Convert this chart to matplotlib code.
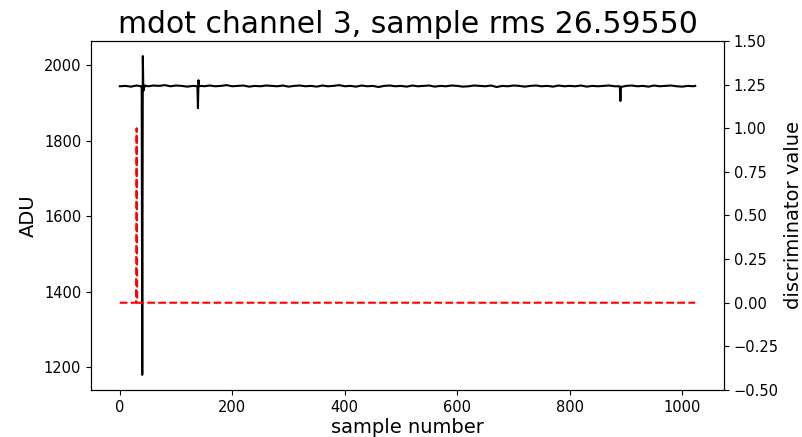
import matplotlib
matplotlib.use("Agg")
import matplotlib.pyplot as plt

# raw mdot channel 3 trace (sample index, ADU)
sample = [0, 10, 20, 30, 38, 39, 40, 41, 42, 43, 45, 50, 60, 70, 80, 90,
          100, 110, 120, 130, 138, 139, 140, 141, 145, 150, 160, 170, 180,
          190, 200, 210, 220, 230, 240, 250, 260, 270, 280, 290, 300, 310,
          320, 330, 340, 350, 360, 370, 380, 390, 400, 410, 420, 430, 440,
          450, 460, 470, 480, 490, 500, 510, 520, 530, 540, 550, 560, 570,
          580, 590, 600, 610, 620, 630, 640, 650, 660, 670, 680, 690, 700,
          710, 720, 730, 740, 750, 760, 770, 780, 790, 800, 810, 820, 830,
          840, 850, 860, 870, 880, 889, 890, 891, 900, 910, 920, 930, 940,
          950, 960, 970, 980, 990, 1000, 1010, 1020, 1023]
adu = [1944, 1945, 1943, 1946, 1944, 1940, 1179, 2024, 1932, 1938, 1946,
       1944, 1946, 1945, 1947, 1944, 1946, 1945, 1943, 1945, 1944, 1886,
       1960, 1944, 1945, 1944, 1946, 1944, 1945, 1947, 1944, 1945, 1946,
       1943, 1945, 1944, 1946, 1945, 1944, 1946, 1943, 1945, 1946, 1944,
       1945, 1943, 1946, 1944, 1945, 1947, 1944, 1945, 1943, 1946, 1944,
       1945, 1942, 1945, 1946, 1944, 1945, 1943, 1946, 1944, 1945, 1946,
       1943, 1945, 1944, 1946, 1945, 1943, 1944, 1946, 1945, 1944, 1946,
       1942, 1945, 1944, 1946, 1945, 1943, 1945, 1946, 1944, 1945, 1943,
       1946, 1944, 1945, 1944, 1946, 1943, 1945, 1944, 1945, 1946, 1944,
       1944, 1905, 1942, 1945, 1946, 1944, 1945, 1943, 1946, 1944, 1945,
       1946, 1944, 1943, 1945, 1944, 1945]

# discriminator output
disc_sample = [0, 29, 30, 31, 1023]
disc_value = [0, 0, 1, 0, 0]

fig = plt.figure(figsize=(8.03, 4.37), dpi=100)
ax = fig.add_axes([0.1133, 0.1076, 0.7883, 0.7986])
ax.plot(sample, adu, color="black", lw=1.5)
ax.set_ylim(1139, 2064)
ax.set_xticks([0, 200, 400, 600, 800, 1000])
ax.set_yticks([1200, 1400, 1600, 1800, 2000])
ax.tick_params(labelsize=10.5)
ax.set_xlabel("sample number", fontsize=14, labelpad=2.5)
ax.set_ylabel("ADU", fontsize=14)
ax.set_title("mdot channel 3, sample rms 26.59550", fontsize=21.5)

ax2 = ax.twinx()
ax2.plot(disc_sample, disc_value, color="red", ls="--", lw=1.5)
ax2.set_ylim(-0.5, 1.5)
ax2.set_yticks([-0.5, -0.25, 0, 0.25, 0.5, 0.75, 1.0, 1.25, 1.5])
ax2.tick_params(labelsize=10.5)
ax2.set_ylabel("discriminator value", fontsize=14)

fig.savefig("out.png", dpi=100)
